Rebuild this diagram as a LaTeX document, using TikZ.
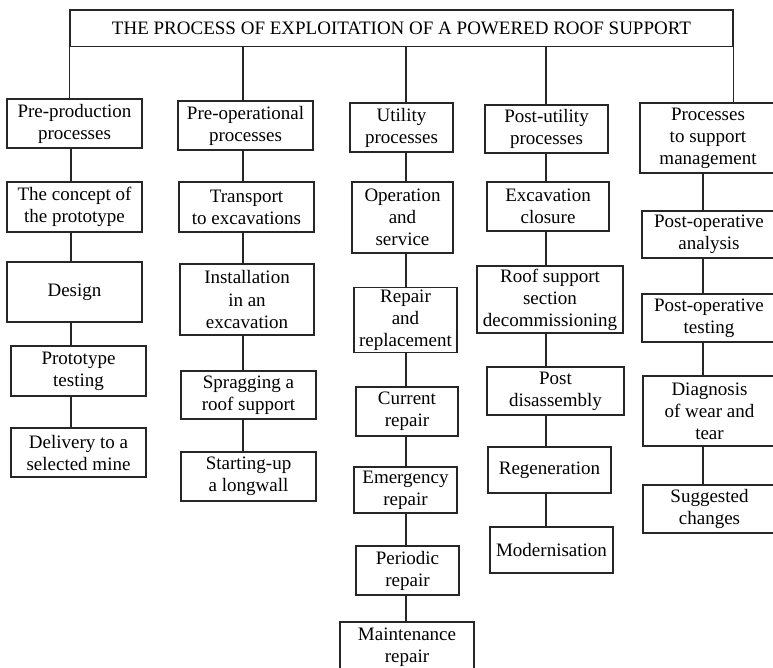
\documentclass[tikz,border=0pt]{standalone}
\usepackage{fontspec}
\setmainfont{Liberation Serif}
\usepackage{xcolor}

\tikzset{
    cell/.style={draw=black!85, line width=1.3pt, rectangle, align=center, inner sep=2pt,
                 font=\fontsize{19}{22}\selectfont},
    link/.style={draw=black!85, line width=1.3pt}
}

\begin{document}
\begin{tikzpicture}[x=1pt, y=-1pt]
        \useasboundingbox (0,0) rectangle (773,668);

        % Draw the title cell
        \node[cell, minimum width=663pt, minimum height=36.5pt] (title) at (401.5, 28.25) {THE PROCESS OF EXPLOITATION OF A POWERED ROOF SUPPORT};

        % Column lines
        \coordinate (col1) at (71, 0);
        \coordinate (col2) at (243, 0);
        \coordinate (col3) at (406, 0);
        \coordinate (col4) at (546, 0);
        \coordinate (col5) at (703, 0);

        % Draw the pre-production cells
        \node[cell, minimum width=135pt, minimum height=49pt] (preprod) at (74.5, 123.5) {Pre-production\\processes};
        \node[cell, minimum width=135pt, minimum height=50pt] (concept) at (74.5, 207) {The concept of\\the prototype};
        \node[cell, minimum width=135pt, minimum height=60pt] (design) at (74.5, 292) {Design};
        \node[cell, minimum width=135pt, minimum height=50pt] (prottest) at (78.5, 371) {Prototype\\testing};
        \node[cell, minimum width=135pt, minimum height=49pt] (delivery) at (78.5, 452.5) {Delivery to a\\selected mine};

        % Draw the pre-operational cells
        \node[cell, minimum width=135pt, minimum height=49pt] (preop) at (245.5, 125.5) {Pre-operational\\processes};
        \node[cell, minimum width=135pt, minimum height=50pt] (transport) at (246.5, 207) {Transport\\to excavations};
        \node[cell, minimum width=134pt, minimum height=71pt] (install) at (247, 299.5) {Installation\\in an\\excavation};
        \node[cell, minimum width=135pt, minimum height=48pt] (spragging) at (248.5, 395) {Spragging a\\roof support};
        \node[cell, minimum width=135pt, minimum height=49pt] (startup) at (248.5, 476.5) {Starting-up\\a longwall};

        % Draw the utility cells
        \node[cell, minimum width=103pt, minimum height=49pt] (utility) at (401.5, 127.5) {Utility\\processes};
        \node[cell, minimum width=101pt, minimum height=71pt] (operation) at (402.5, 217.5) {Operation\\and\\service};
        \node[cell, minimum width=103pt, minimum height=64pt] (repair) at (405.5, 320) {Repair\\and\\replacement};
        \node[cell, minimum width=102pt, minimum height=49pt] (current) at (407, 411.5) {Current\\repair};
        \node[cell, minimum width=103pt, minimum height=46pt] (emergency) at (405.5, 490) {Emergency\\repair};
        \node[cell, minimum width=103pt, minimum height=49pt] (periodic) at (407.5, 570.5) {Periodic\\repair};
        \node[cell, minimum width=134pt, minimum height=50pt] (maintenance) at (407, 647) {Maintenance\\repair};

        % Draw the post-utility cells
        \node[cell, minimum width=123pt, minimum height=48pt] (postutil) at (546.5, 129) {Post-utility\\processes};
        \node[cell, minimum width=122pt, minimum height=49pt] (closure) at (548, 206.5) {Excavation\\closure};
        \node[cell, minimum width=146pt, minimum height=67pt] (decomm) at (550, 299.5) {Roof support\\section\\decommissioning};
        \node[cell, minimum width=137pt, minimum height=48pt] (disassembly) at (555.5, 391) {Post\\disassembly};
        \node[cell, minimum width=123pt, minimum height=46pt] (regen) at (549.5, 470) {Regeneration};
        \node[cell, minimum width=123pt, minimum height=46pt] (modern) at (551.5, 550) {Modernisation};

        % Draw the support management cells
        \node[cell, minimum width=136pt, minimum height=70pt] (supportmgmt) at (708, 138) {Processes\\to support\\management};
        \node[cell, minimum width=134pt, minimum height=47pt] (analysis) at (709, 234.5) {Post-operative\\analysis};
        \node[cell, minimum width=134pt, minimum height=48pt] (testing) at (709, 318) {Post-operative\\testing};
        \node[cell, minimum width=133pt, minimum height=70pt] (diagnosis) at (709.5, 411) {Diagnosis\\of wear and\\tear};
        \node[cell, minimum width=133pt, minimum height=48pt] (suggested) at (709.5, 509) {Suggested\\changes};

        % Draw the lines from the title
        \draw[link] (title.south west) -- (title.south west |- preprod.north);
        \draw[link] (col2 |- title.south) -- (col2 |- preop.north);
        \draw[link] (col3 |- title.south) -- (col3 |- utility.north);
        \draw[link] (col4 |- title.south) -- (col4 |- postutil.north);
        \draw[link] (title.south east) -- (title.south east |- supportmgmt.north);

        % Draw the lines in the columns
        \draw[link] (col1 |- preprod.south) -- (col1 |- concept.north);
        \draw[link] (col1 |- concept.south) -- (col1 |- design.north);
        \draw[link] (col1 |- design.south) -- (col1 |- prottest.north);
        \draw[link] (col1 |- prottest.south) -- (col1 |- delivery.north);

        \draw[link] (col2 |- preop.south) -- (col2 |- transport.north);
        \draw[link] (col2 |- transport.south) -- (col2 |- install.north);
        \draw[link] (col2 |- install.south) -- (col2 |- spragging.north);
        \draw[link] (col2 |- spragging.south) -- (col2 |- startup.north);

        \draw[link] (col3 |- utility.south) -- (col3 |- operation.north);
        \draw[link] (col3 |- operation.south) -- (col3 |- repair.north);
        \draw[link] (col3 |- repair.south) -- (col3 |- current.north);
        \draw[link] (col3 |- current.south) -- (col3 |- emergency.north);
        \draw[link] (col3 |- emergency.south) -- (col3 |- periodic.north);
        \draw[link] (col3 |- periodic.south) -- (col3 |- maintenance.north);

        \draw[link] (col4 |- postutil.south) -- (col4 |- closure.north);
        \draw[link] (col4 |- closure.south) -- (col4 |- decomm.north);
        \draw[link] (col4 |- decomm.south) -- (col4 |- disassembly.north);
        \draw[link] (col4 |- disassembly.south) -- (col4 |- regen.north);
        \draw[link] (col4 |- regen.south) -- (col4 |- modern.north);

        \draw[link] (col5 |- supportmgmt.south) -- (col5 |- analysis.north);
        \draw[link] (col5 |- analysis.south) -- (col5 |- testing.north);
        \draw[link] (col5 |- testing.south) -- (col5 |- diagnosis.north);
        \draw[link] (col5 |- diagnosis.south) -- (col5 |- suggested.north);

    \end{tikzpicture}
\end{document}
